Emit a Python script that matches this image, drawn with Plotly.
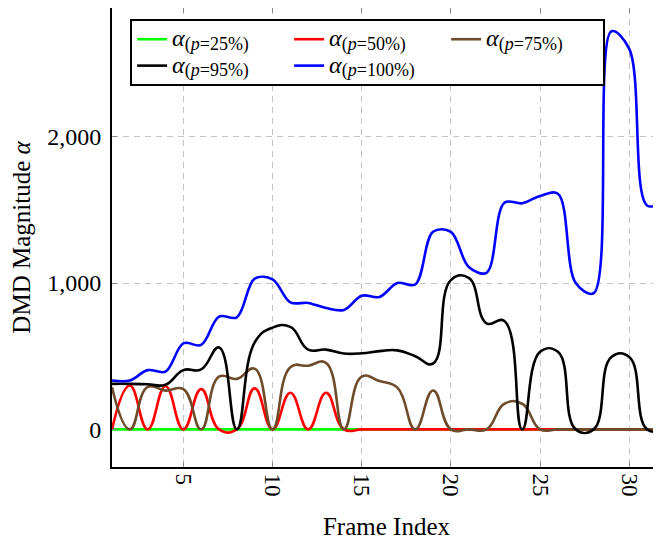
import plotly.graph_objects as go

frames = list(range(1, 33))

alpha_p25 = [0] * 32
alpha_p50 = [0, 300, 0, 295, 0, 275, 0, 0, 280, 0, 250, 0, 250, 0, 0, 0,
             0, 0, 0, 0, 0, 0, 0, 0, 0, 0, 0, 0, 0, 0, 0, 0]
alpha_p75 = [288, 0, 290, 265, 275, 0, 360, 345, 415, 0, 425, 435, 455, 0, 360, 330,
             285, 0, 266, 0, 0, 0, 175, 175, 0, 0, 0, 0, 0, 0, 0, 0]
alpha_p95 = [311, 311, 308, 305, 405, 410, 560, 0, 595, 695, 700, 545, 545, 518, 520, 535,
             540, 500, 450, 1020, 1035, 725, 740, 0, 530, 530, 0, 0, 495, 495, 0, 0]
alpha_p100 = [334, 334, 405, 395, 588, 577, 770, 766, 1030, 1025, 868, 864, 829, 816, 913, 905,
              1000, 990, 1350, 1350, 1110, 1070, 1549, 1545, 1595, 1610, 1000, 930, 2720, 2600, 1530, 1560]

series = [
    ("25%", alpha_p25, "#00ff00", 1.3),
    ("50%", alpha_p50, "#ff0000", 1.3),
    ("75%", alpha_p75, "#6e4b2a", 1.3),
    ("95%", alpha_p95, "#000000", 1.3),
    ("100%", alpha_p100, "#0000ff", 1.0),
]

FONT = "Liberation Serif"

fig = go.Figure()
for pct, vals, col, sm in series:
    name = ('<span style="font-size:24px"><i>α</i></span>'
            '<sub><span style="font-size:18px">(<i>p</i>=' + pct + ')</span></sub>')
    fig.add_trace(go.Scatter(
        x=frames, y=vals, mode="lines", name=name,
        line=dict(color=col, width=2.6, shape="spline", smoothing=sm),
    ))

# the page body adds an 8px offset, so the figure is sized to end at the window edge
fig.update_layout(
    width=653, height=534,
    margin=dict(l=104, r=0, t=0, b=75),
    paper_bgcolor="white", plot_bgcolor="white",
    font=dict(family=FONT, size=24, color="black"),
    showlegend=True,
    legend=dict(
        orientation="h", x=0.033, y=0.976, xanchor="left", yanchor="top",
        bgcolor="white", bordercolor="black", borderwidth=2,
        font=dict(family=FONT, size=18, color="black"),
        entrywidth=112, entrywidthmode="pixels", tracegroupgap=0,
    ),
)

fig.update_xaxes(
    range=[1, 31.78], tickvals=[5, 10, 15, 20, 25, 30], tickangle=90,
    showgrid=True, gridcolor="#c4c4c4", gridwidth=1, griddash="6px,5px",
    showline=True, linecolor="black", linewidth=2, mirror="ticks",
    ticks="inside", ticklen=5, tickcolor="#888888", tickwidth=1,
    zeroline=False, automargin=False,
    title=dict(text="Frame Index", standoff=22, font=dict(size=25)),
    tickfont=dict(size=23),
)
fig.update_yaxes(
    range=[-257, 2879], tickvals=[0, 1000, 2000], tickformat=",d",
    showgrid=True, gridcolor="#c4c4c4", gridwidth=1, griddash="6px,5px",
    showline=True, linecolor="black", linewidth=2, mirror=False,
    ticks="inside", ticklen=5, tickcolor="#888888", tickwidth=1,
    zeroline=False, automargin=False, ticklabelstandoff=4,
    title=dict(text="DMD Magnitude <i>α</i>", standoff=21, font=dict(size=25)),
    tickfont=dict(size=24),
)

fig.write_html("out.html")
